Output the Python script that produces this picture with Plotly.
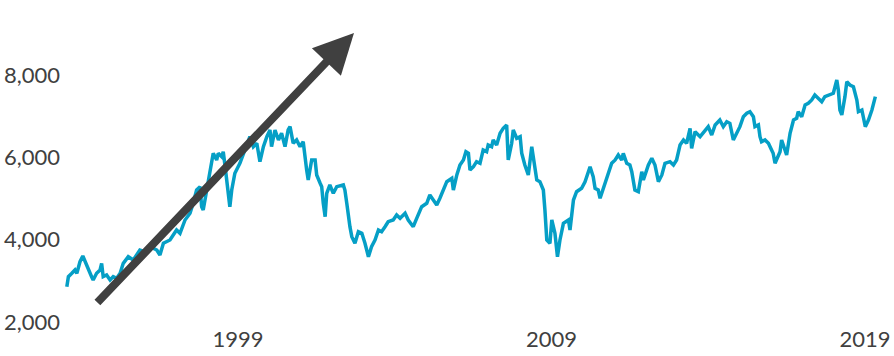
import plotly.graph_objects as go

# Decimal year and index level (in six consecutive stretches)
years_1993_1997 = [1993.54, 1993.59, 1993.70, 1993.80, 1993.86, 1993.96, 1994.05, 1994.12, 1994.22, 1994.33,
                   1994.38, 1994.49, 1994.60, 1994.65, 1994.70, 1994.81, 1994.92, 1995.02, 1995.13, 1995.24,
                   1995.34, 1995.50, 1995.66, 1995.87, 1996.03, 1996.19, 1996.41, 1996.51, 1996.62, 1996.83,
                   1997.04, 1997.15, 1997.31]
values_1993_1997 = [2858, 3101, 3183, 3263, 3183, 3465, 3603, 3465, 3304, 3101,
                    3020, 3183, 3263, 3425, 3101, 3142, 3020, 3101, 3061, 3183,
                    3425, 3586, 3506, 3749, 3708, 3829, 3749, 3627, 3912, 3992,
                    4235, 4154, 4478]

years_1997_2001 = [1997.47, 1997.57, 1997.68, 1997.79, 1997.84, 1997.89, 1998.00, 1998.11, 1998.16, 1998.21,
                   1998.32, 1998.37, 1998.48, 1998.53, 1998.59, 1998.69, 1998.74, 1998.80, 1998.90, 1999.06,
                   1999.17, 1999.28, 1999.38, 1999.49, 1999.60, 1999.70, 1999.81, 1999.92, 2000.02, 2000.07,
                   2000.18, 2000.29, 2000.39, 2000.50, 2000.60, 2000.66, 2000.76, 2000.87, 2000.98, 2001.08,
                   2001.14, 2001.19, 2001.24, 2001.35, 2001.46, 2001.51, 2001.62, 2001.67, 2001.72, 2001.78,
                   2001.83]
values_1997_2001 = [4640, 4883, 5206, 5287, 4801, 4720, 5206, 5612, 5935, 6098,
                    5935, 6098, 6015, 6137, 5772, 5206, 4801, 5206, 5612, 5855,
                    6098, 6341, 6501, 6258, 6341, 5894, 6258, 6501, 6664, 6258,
                    6664, 6421, 6584, 6258, 6664, 6744, 6341, 6421, 6258, 6380,
                    5935, 5692, 5449, 5935, 5935, 5571, 5369, 5287, 4883, 4558,
                    5126]

years_2001_2005 = [2001.93, 2002.04, 2002.15, 2002.36, 2002.41, 2002.47, 2002.52, 2002.57, 2002.63, 2002.73,
                   2002.84, 2002.95, 2003.05, 2003.16, 2003.26, 2003.37, 2003.48, 2003.58, 2003.69, 2003.79,
                   2003.95, 2004.06, 2004.17, 2004.33, 2004.43, 2004.59, 2004.70, 2004.86, 2005.02, 2005.12,
                   2005.23, 2005.34]
values_2001_2005 = [5328, 5126, 5287, 5328, 5206, 4883, 4558, 4315, 4072, 3912,
                    4193, 4154, 3912, 3586, 3829, 3992, 4235, 4193, 4315, 4436,
                    4478, 4599, 4519, 4640, 4478, 4315, 4519, 4801, 4883, 5085,
                    4963, 4842]

years_2005_2010 = [2005.44, 2005.55, 2005.66, 2005.82, 2005.87, 2005.98, 2006.08, 2006.19, 2006.27, 2006.35,
                   2006.40, 2006.51, 2006.61, 2006.72, 2006.82, 2006.93, 2006.98, 2007.09, 2007.14, 2007.25,
                   2007.36, 2007.46, 2007.57, 2007.62, 2007.73, 2007.78, 2007.89, 2008.00, 2008.05, 2008.15,
                   2008.26, 2008.37, 2008.47, 2008.53, 2008.63, 2008.74, 2008.79, 2008.85, 2008.95, 2009.01,
                   2009.11, 2009.19, 2009.27, 2009.38, 2009.54, 2009.59, 2009.70, 2009.80, 2009.96, 2010.07]
values_2005_2010 = [5005, 5206, 5408, 5490, 5206, 5571, 5814, 5935, 6137, 6098,
                    5692, 5772, 5894, 5855, 6178, 6137, 6299, 6258, 6421, 6299,
                    6584, 6705, 6785, 5935, 6341, 6664, 6462, 6501, 6098, 5814,
                    5571, 6258, 5733, 5449, 5408, 5206, 4720, 3992, 3912, 4478,
                    4154, 3586, 3992, 4397, 4478, 4235, 4963, 5165, 5248, 5408]

years_2010_2014 = [2010.23, 2010.33, 2010.39, 2010.49, 2010.55, 2010.65, 2010.71, 2010.81, 2010.92, 2011.03,
                   2011.13, 2011.24, 2011.29, 2011.40, 2011.50, 2011.56, 2011.66, 2011.77, 2011.88, 2011.93,
                   2012.09, 2012.20, 2012.30, 2012.41, 2012.52, 2012.62, 2012.78, 2012.89, 2012.99, 2013.10,
                   2013.21, 2013.31, 2013.42, 2013.47, 2013.58, 2013.74, 2013.90, 2014.00, 2014.11, 2014.22,
                   2014.37, 2014.48, 2014.59, 2014.69, 2014.80, 2014.91]
values_2010_2014 = [5772, 5529, 5248, 5206, 5005, 5248, 5408, 5651, 5855, 5935,
                    6056, 5935, 6098, 5855, 5814, 5651, 5206, 5165, 5651, 5449,
                    5814, 5976, 5814, 5408, 5571, 5855, 5894, 5814, 5935, 6299,
                    6421, 6341, 6705, 6219, 6622, 6501, 6664, 6744, 6542, 6785,
                    6907, 6744, 6865, 6826, 6421, 6584]

years_2015_2019 = [2015.01, 2015.12, 2015.23, 2015.33, 2015.44, 2015.49, 2015.60, 2015.65, 2015.70, 2015.81,
                   2015.92, 2016.02, 2016.07, 2016.13, 2016.18, 2016.29, 2016.34, 2016.45, 2016.50, 2016.61,
                   2016.72, 2016.82, 2016.87, 2016.98, 2017.09, 2017.19, 2017.30, 2017.40, 2017.51, 2017.62,
                   2017.72, 2017.88, 2017.99, 2018.10, 2018.15, 2018.20, 2018.26, 2018.36, 2018.42, 2018.52,
                   2018.63, 2018.74, 2018.79, 2018.90, 2019.01, 2019.11, 2019.22, 2019.33]
values_2015_2019 = [6744, 6987, 7069, 7108, 6987, 6744, 6785, 6501, 6380, 6421,
                    6341, 6178, 6098, 5855, 5935, 6137, 6421, 6178, 6056, 6584,
                    6907, 6948, 7108, 6987, 7271, 7312, 7392, 7514, 7434, 7351,
                    7473, 7514, 7555, 7878, 7635, 7149, 7028, 7473, 7837, 7757,
                    7715, 7392, 7108, 7149, 6744, 6907, 7149, 7473]

tick_years = [1999, 2009, 2019]
tick_labels = ["1999", "2009", "2019"]
y_ticks = [2000, 4000, 6000, 8000]
y_tick_labels = ["2,000", "4,000", "6,000", "8,000"]

# Trend arrow (tail -> tip) in data units
arrow_tail = (1994.47, 2437)
arrow_tip = (2002.70, 9020)

years = (years_1993_1997 + years_1997_2001 + years_2001_2005 +
         years_2005_2010 + years_2010_2014 + years_2015_2019)
values = (values_1993_1997 + values_1997_2001 + values_2001_2005 +
          values_2005_2010 + values_2010_2014 + values_2015_2019)
assert len(years) == len(values)

LINE_COLOR = "#059fc6"
TEXT_COLOR = "#404040"

fig = go.Figure()
fig.add_trace(go.Scatter(x=years, y=values, mode="lines",
                         line=dict(color=LINE_COLOR, width=3.5),
                         hoverinfo="skip", showlegend=False))

fig.add_annotation(x=arrow_tip[0], y=arrow_tip[1], xref="x", yref="y",
                   ax=arrow_tail[0], ay=arrow_tail[1], axref="x", ayref="y",
                   showarrow=True, arrowhead=2, arrowsize=1, arrowwidth=8,
                   arrowcolor="#404040", text="")

fig.update_layout(
    width=894, height=356,
    margin=dict(l=62, r=0, t=0, b=34),
    paper_bgcolor="white", plot_bgcolor="white",
    font=dict(family="Lato, Noto Sans, sans-serif", size=22, color=TEXT_COLOR),
    xaxis=dict(range=[1993.386, 2019.925], tickvals=tick_years, ticktext=tick_labels,
               showgrid=False, zeroline=False, showline=False, ticks="",
               ticklabelstandoff=2),
    yaxis=dict(range=[2000, 9821], tickvals=y_ticks, ticktext=y_tick_labels,
               showgrid=False, zeroline=False, showline=False, ticks="",
               ticklabelstandoff=1),
)

fig.write_html("out.html")
